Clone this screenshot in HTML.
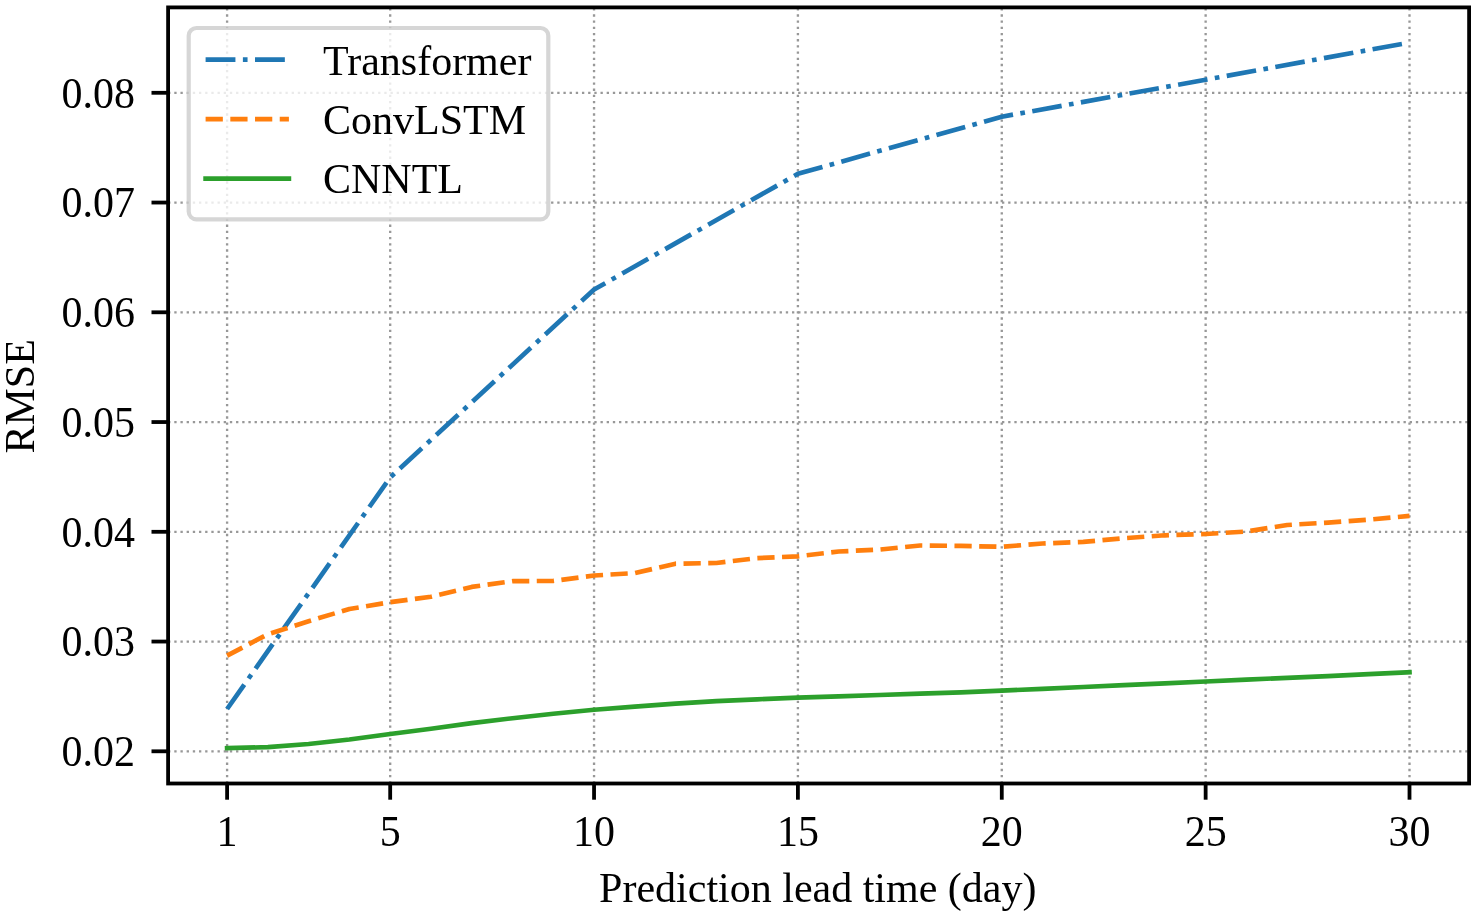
<!DOCTYPE html>
<html><head><meta charset="utf-8"><title>RMSE vs prediction lead time</title>
<style>html,body{margin:0;padding:0;background:#fff;}body{width:1476px;height:915px;overflow:hidden;}svg{display:block;will-change:transform;}text{font-family:"Liberation Serif",serif;font-size:42.00px;fill:#000;}</style></head><body>
<svg width="1476" height="915" viewBox="0 0 1476 915">
<rect x="0" y="0" width="1476" height="915" fill="#fff"/>
<g stroke="#989898" stroke-width="2.330" stroke-dasharray="2.330 3.854" fill="none">
<line x1="227.10" y1="783.50" x2="227.10" y2="7.40"/>
<line x1="390.19" y1="783.50" x2="390.19" y2="7.40"/>
<line x1="594.05" y1="783.50" x2="594.05" y2="7.40"/>
<line x1="797.91" y1="783.50" x2="797.91" y2="7.40"/>
<line x1="1001.78" y1="783.50" x2="1001.78" y2="7.40"/>
<line x1="1205.64" y1="783.50" x2="1205.64" y2="7.40"/>
<line x1="1409.50" y1="783.50" x2="1409.50" y2="7.40"/>
</g>
<g stroke="#989898" stroke-width="2.330" stroke-dasharray="2.330 3.847" fill="none">
<line x1="168.10" y1="751.30" x2="1469.10" y2="751.30"/>
<line x1="168.10" y1="641.55" x2="1469.10" y2="641.55"/>
<line x1="168.10" y1="531.80" x2="1469.10" y2="531.80"/>
<line x1="168.10" y1="422.05" x2="1469.10" y2="422.05"/>
<line x1="168.10" y1="312.30" x2="1469.10" y2="312.30"/>
<line x1="168.10" y1="202.55" x2="1469.10" y2="202.55"/>
<line x1="168.10" y1="92.80" x2="1469.10" y2="92.80"/>
</g>
<polyline points="227.1,709.0 390.2,477.4 594.1,289.5 797.9,173.8 1001.8,116.7 1205.6,79.7 1408.9,42.7" fill="none" stroke="#1f77b4" stroke-width="4.66" stroke-linejoin="round" stroke-dasharray="29.83 7.46 4.66 7.46"/>
<polyline points="227.1,655.6 267.9,634.2 308.6,621.2 349.4,609.0 390.2,602.2 431.0,596.7 471.7,586.9 512.5,581.2 553.3,580.9 594.1,575.5 634.8,573.1 675.6,563.7 716.4,563.0 757.1,558.1 797.9,556.3 838.7,551.5 879.5,549.6 920.2,545.5 961.0,545.9 1001.8,546.8 1042.5,543.5 1083.3,541.9 1124.1,538.2 1164.9,535.3 1205.6,534.0 1246.4,531.5 1287.2,525.0 1328.0,522.6 1368.7,519.7 1409.5,515.9" fill="none" stroke="#ff7f0e" stroke-width="4.66" stroke-linejoin="round" stroke-dasharray="17.25 7.46"/>
<polyline points="227.1,748.2 267.9,747.1 308.6,744.0 349.4,739.5 390.2,734.0 431.0,728.8 471.7,723.1 512.5,718.2 553.3,713.7 594.1,709.8 634.8,706.6 675.6,703.6 716.4,701.2 757.1,699.3 797.9,697.7 838.7,696.4 879.5,695.0 920.2,693.7 961.0,692.3 1001.8,690.7 1042.5,688.8 1083.3,687.0 1124.1,685.1 1164.9,683.4 1205.6,681.5 1246.4,679.6 1287.2,677.9 1328.0,676.1 1368.7,674.2 1409.5,672.3" fill="none" stroke="#2ca02c" stroke-width="4.66" stroke-linejoin="round" stroke-linecap="square"/>
<rect x="168.10" y="7.40" width="1301.00" height="776.10" fill="none" stroke="#000" stroke-width="3.80"/>
<g stroke="#000" stroke-width="3.80">
<line x1="227.10" y1="783.50" x2="227.10" y2="799.70"/>
<line x1="390.19" y1="783.50" x2="390.19" y2="799.70"/>
<line x1="594.05" y1="783.50" x2="594.05" y2="799.70"/>
<line x1="797.91" y1="783.50" x2="797.91" y2="799.70"/>
<line x1="1001.78" y1="783.50" x2="1001.78" y2="799.70"/>
<line x1="1205.64" y1="783.50" x2="1205.64" y2="799.70"/>
<line x1="1409.50" y1="783.50" x2="1409.50" y2="799.70"/>
<line x1="168.10" y1="751.30" x2="151.50" y2="751.30"/>
<line x1="168.10" y1="641.55" x2="151.50" y2="641.55"/>
<line x1="168.10" y1="531.80" x2="151.50" y2="531.80"/>
<line x1="168.10" y1="422.05" x2="151.50" y2="422.05"/>
<line x1="168.10" y1="312.30" x2="151.50" y2="312.30"/>
<line x1="168.10" y1="202.55" x2="151.50" y2="202.55"/>
<line x1="168.10" y1="92.80" x2="151.50" y2="92.80"/>
</g>
<text transform="translate(227.10,845.90) scale(1,1.045)" text-anchor="middle">1</text>
<text transform="translate(390.19,845.90) scale(1,1.045)" text-anchor="middle">5</text>
<text transform="translate(594.05,845.90) scale(1,1.045)" text-anchor="middle">10</text>
<text transform="translate(797.91,845.90) scale(1,1.045)" text-anchor="middle">15</text>
<text transform="translate(1001.78,845.90) scale(1,1.045)" text-anchor="middle">20</text>
<text transform="translate(1205.64,845.90) scale(1,1.045)" text-anchor="middle">25</text>
<text transform="translate(1409.50,845.90) scale(1,1.045)" text-anchor="middle">30</text>
<text transform="translate(135.00,766.00) scale(1,1.045)" text-anchor="end">0.02</text>
<text transform="translate(135.00,656.25) scale(1,1.045)" text-anchor="end">0.03</text>
<text transform="translate(135.00,546.50) scale(1,1.045)" text-anchor="end">0.04</text>
<text transform="translate(135.00,436.75) scale(1,1.045)" text-anchor="end">0.05</text>
<text transform="translate(135.00,327.00) scale(1,1.045)" text-anchor="end">0.06</text>
<text transform="translate(135.00,217.25) scale(1,1.045)" text-anchor="end">0.07</text>
<text transform="translate(135.00,107.50) scale(1,1.045)" text-anchor="end">0.08</text>
<text x="817.80" y="902.30" text-anchor="middle">Prediction lead time (day)</text>
<text transform="translate(34.30,396.30) rotate(-90)" text-anchor="middle">RMSE</text>
<rect x="188.7" y="28.0" width="359.6" height="191.4" rx="7.8" ry="7.8" fill="#ffffff" fill-opacity="0.8" stroke="#cccccc" stroke-opacity="0.8" stroke-width="4.2"/>
<line x1="205.60" y1="59.7" x2="288.90" y2="59.7" stroke="#1f77b4" stroke-width="4.66" stroke-dasharray="29.83 7.46 4.66 7.46"/>
<line x1="205.60" y1="119.2" x2="288.90" y2="119.2" stroke="#ff7f0e" stroke-width="4.66" stroke-dasharray="17.25 7.46"/>
<line x1="205.60" y1="178.7" x2="288.90" y2="178.7" stroke="#2ca02c" stroke-width="4.66" stroke-linecap="square"/>
<text x="323.00" y="74.60">Transformer</text>
<text x="323.00" y="134.10">ConvLSTM</text>
<text x="323.00" y="193.00">CNNTL</text>
</svg></body></html>
